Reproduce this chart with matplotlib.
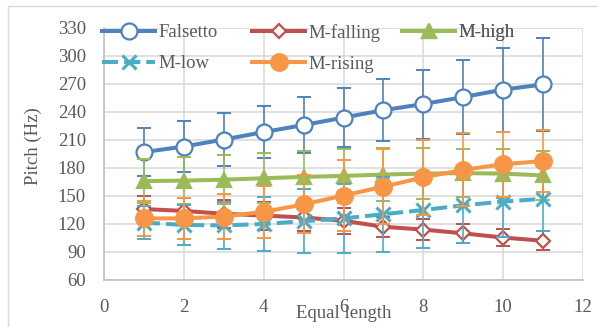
import matplotlib.pyplot as plt
from matplotlib.patches import Rectangle
from matplotlib.lines import Line2D

# Data
positions = [1, 2, 3, 4, 5, 6, 7, 8, 9, 10, 11]

falsetto = [197, 203, 210.5, 218.5, 226, 234, 242, 248.5, 256, 264, 269.5]
falsetto_err = [26, 27, 28, 27.5, 30, 32, 33, 37, 40, 45, 50]

m_falling = [136, 134, 131, 129, 127, 123.5, 117, 114, 110, 105.5, 102]
m_falling_err = [14, 14, 15, 15, 15, 14, 11, 11, 10, 9, 10]

m_high = [166, 166.5, 167.5, 169, 170.5, 171.5, 173, 174, 174.5, 174, 172]
m_high_err = [24, 25, 26, 27, 28, 29, 28, 27, 26, 26, 26]

m_low = [121.5, 119, 118.5, 120, 123, 126, 130.5, 135, 140, 144, 147]
m_low_err = [18, 21, 25, 29, 34, 37, 40, 41, 40, 38, 34]

m_rising = [126, 126, 128, 133, 141, 150.5, 160, 170, 178, 184, 187.5]
m_rising_err = [19, 22, 24, 28, 31, 38, 40.5, 40, 39, 35, 33]

series = [
    ('Falsetto', falsetto, falsetto_err, '#4f81bd', 'o', 'white', 11.5, '-'),
    ('M-falling', m_falling, m_falling_err, '#c0504d', 'D', 'white', 7.5, '-'),
    ('M-high', m_high, m_high_err, '#9bbb59', '^', '#9bbb59', 10, '-'),
    ('M-low', m_low, m_low_err, '#4bacc6', 'x', '#4bacc6', 10.5, (0, (4, 1.5))),
    ('M-rising', m_rising, m_rising_err, '#f79646', 'o', '#f79646', 12, '-'),
]

text_color = '#595959'
fs = 13.5
plt.rcParams['font.family'] = ['Liberation Serif', 'DejaVu Serif']

fig = plt.figure(figsize=(5.98, 3.27), dpi=100)
ax = fig.add_axes([104 / 598, 1 - 280 / 327, 479 / 598, 252 / 327])

# light outer frame of the original chart box
fig.patches.append(Rectangle((8 / 598, -0.1), 1.2, 1 - 6 / 327 + 0.1,
                             transform=fig.transFigure, fill=False,
                             edgecolor='#d9d9d9', linewidth=1.0))

handles = []
for i, (name, vals, err, color, marker, face, ms, ls) in enumerate(series):
    mew = 1.6 if marker != 'x' else 2.2
    ax.errorbar(positions, vals, yerr=err, fmt='none', ecolor=color,
                elinewidth=1.2, capsize=5, capthick=1.4, zorder=3 + i * 2)
    ax.plot(positions, vals, color=color, linewidth=2.9, linestyle=ls,
            marker=marker, markersize=ms, markerfacecolor=face,
            markeredgecolor=color, markeredgewidth=mew, zorder=4 + i * 2)
    handles.append(Line2D([], [], color=color, linewidth=2.9, linestyle=ls,
                          marker=marker, markersize=ms, markerfacecolor=face,
                          markeredgecolor=color, markeredgewidth=mew))

ax.set_xlim(0, 12)
ax.set_ylim(60, 330)
ax.set_xticks(range(0, 13, 2))
ax.set_yticks(range(60, 331, 30))
ax.grid(True, color='#d9d9d9', linewidth=1.1)
ax.set_axisbelow(True)
for side in ['top', 'right']:
    ax.spines[side].set_visible(False)
for side in ['left', 'bottom']:
    ax.spines[side].set_color('#bfbfbf')
    ax.spines[side].set_linewidth(1.1)
ax.tick_params(length=0, labelsize=fs, labelcolor=text_color)
ax.tick_params(axis='y', pad=13)
ax.tick_params(axis='x', pad=13.5)

ax.set_xlabel('Equal length', fontsize=fs, color=text_color, va='center')
ax.xaxis.set_label_coords(0.5, -0.133)
ax.set_ylabel('Pitch (Hz)', fontsize=fs, color=text_color, va='center')
ax.yaxis.set_label_coords(-0.148, 0.532)

# legend laid out as three columns like the original
cols = [([handles[0], handles[3]], ['Falsetto', 'M-low'], 102),
        ([handles[1], handles[4]], ['M-falling', 'M-rising'], 252),
        ([handles[2]], ['M-high'], 402)]
for hs, labels, x0 in cols:
    leg = ax.legend(hs, labels, loc='upper left', frameon=False,
                    bbox_to_anchor=(x0 / 598, 1 - 24 / 327),
                    bbox_transform=fig.transFigure, fontsize=fs,
                    handlelength=2.83, handletextpad=0.16, labelspacing=0.74,
                    borderpad=0, borderaxespad=0, numpoints=1)
    for t in leg.get_texts():
        t.set_color(text_color)
    leg.set_zorder(20)
    ax.add_artist(leg)

fig.savefig('out.png', dpi=100)
